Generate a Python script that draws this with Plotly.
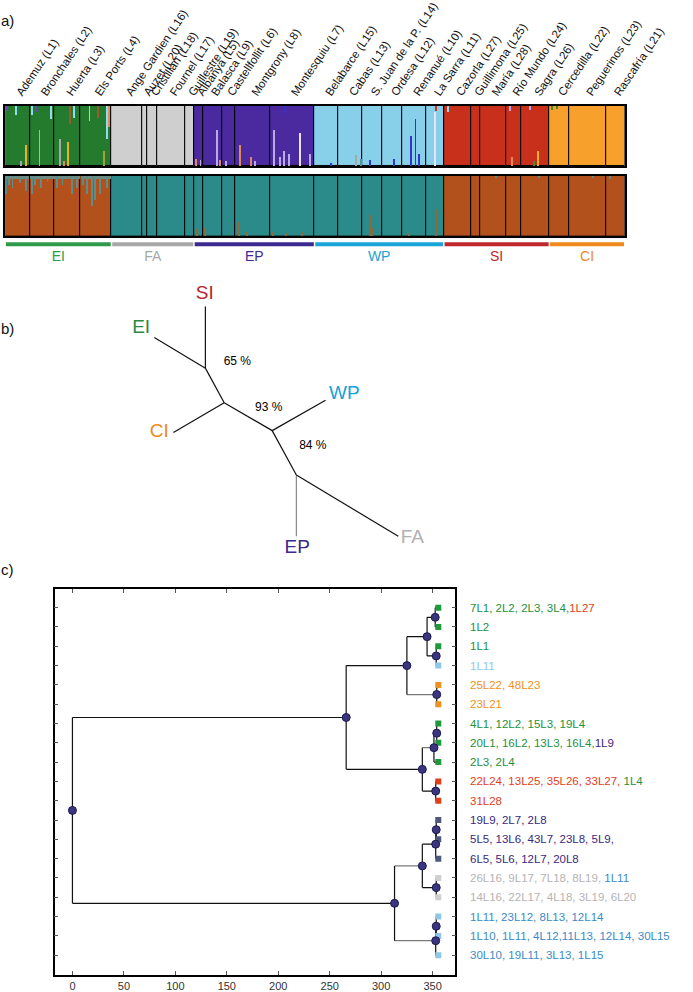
import numpy as np
import plotly.graph_objects as go

W, H = 693, 992

# ---------------- panel a : STRUCTURE bar plots ----------------
pop_names = ["Ademuz (L1)", "Bronchales (L2)", "Huerta (L3)", "Els Ports (L4)",
             "Ange Gardien (L16)", "Auzet (L20)", "Cristillan (L18)", "Fournel (L17)", "Guillestre (L19)",
             "Albanyà (L5)", "Balasca (L9)", "Castellfollit (L6)", "Montgrony (L8)", "Montesquiu (L7)",
             "Belabarce (L15)", "Cabas (L13)", "S. Juan de la P. (L14)", "Ordesa (L12)", "Renanué (L10)", "La Sarra (L11)",
             "Cazorla (L27)", "Guillimona (L25)", "María (L28)", "Río Mundo (L24)", "Sagra (L26)",
             "Cercedilla (L22)", "Peguerinos (L23)", "Rascafría (L21)"]
pop_n = [31, 31, 33, 39,
         39, 6, 12, 36, 11,
         11, 24, 17, 44, 56,
         30, 30, 25, 26, 30, 22,
         34, 12, 32, 20, 35,
         25, 46, 24]
pop_group = [0]*4 + [1]*5 + [2]*5 + [3]*6 + [4]*5 + [5]*3
group_names = ["EI", "FA", "EP", "WP", "SI", "CI"]
group_label_colors = ["#2e9a4a", "#a8a8a8", "#3d2a8f", "#1aa3d6", "#c0272d", "#f08a1c"]

# K=6 cluster colours (top) and K=2 (bottom)
top_cluster_colors = ["#247a2d", "#cfcfcf", "#4a2a9e", "#88cfea", "#c9301c", "#f7a12c"]
bottom_cluster_colors = ["#b3511c", "#2b8b8b"]
bottom_cluster_of_group = [0, 1, 1, 1, 0, 0]

extra_colors = {"yellow": "#e9b21f", "lblue": "#8fdcf2", "purple": "#6a4ab0", "gray": "#a8a8a8",
                "brown": "#9a5a2a", "salmon": "#e0895a", "olive": "#a6a03a", "lav": "#b9aae6",
                "white": "#e8e4f4", "dblue": "#3434c8", "red": "#d23020", "green": "#4a8a2a",
                "teal": "#4a9a9a"}

# admixed individuals, top plot: (population, individual, colour, proportion, from_top)
spikes_top = [
    (0, 26, "yellow", 0.35, 0), (0, 13, "lblue", 0.15, 1), (0, 2, "purple", 0.08, 1), (0, 20, "gray", 0.08, 0),
    (1, 12, "yellow", 0.60, 0), (1, 3, "lblue", 0.15, 1), (1, 27, "lblue", 0.22, 1), (1, 8, "purple", 0.10, 1),
    (2, 17, "yellow", 0.40, 0), (2, 7, "gray", 0.45, 0), (2, 19, "brown", 0.30, 1), (2, 25, "lblue", 0.20, 1),
    (2, 12, "salmon", 0.08, 0),
    (3, 11, "lblue", 0.25, 1), (3, 33, "lblue", 0.55, 1), (3, 29, "olive", 0.25, 0), (3, 22, "brown", 0.20, 1),
    (3, 36, "salmon", 0.35, 1),
    (9, 2, "salmon", 0.12, 0), (9, 8, "lav", 0.10, 0),
    (10, 18, "lav", 0.60, 0), (10, 22, "salmon", 0.10, 0),
    (11, 5, "lav", 0.08, 0),
    (12, 6, "salmon", 0.35, 0), (12, 20, "salmon", 0.15, 0), (12, 25, "lav", 0.08, 0),
    (13, 5, "lav", 0.60, 0), (13, 12, "lav", 0.15, 0), (13, 17, "lav", 0.25, 0), (13, 18, "dblue", 0.12, 1),
    (13, 23, "lav", 0.20, 0), (13, 37, "white", 0.55, 0), (13, 50, "lav", 0.20, 0),
    (14, 20, "dblue", 0.05, 0),
    (15, 22, "gray", 0.18, 0), (15, 28, "teal", 0.12, 0),
    (16, 10, "dblue", 0.10, 0), (17, 15, "dblue", 0.12, 0),
    (18, 10, "dblue", 0.50, 0), (18, 16, "dblue", 0.78, 0), (18, 20, "dblue", 0.20, 0),
    (19, 11, "white", 0.90, 0), (19, 12, "red", 0.08, 1),
    (20, 5, "lblue", 0.10, 1),
    (23, 5, "lav", 0.08, 1), (23, 8, "salmon", 0.15, 0),
    (24, 20, "yellow", 0.25, 0), (24, 10, "lav", 0.06, 1), (24, 15, "green", 0.08, 0),
    (25, 3, "green", 0.06, 1), (25, 9, "green", 0.05, 1),
]
# admixed individuals, bottom plot (K=2): (population, individual, proportion of the minor cluster)
spikes_bottom = [
    (0, 1, 0.30), (0, 5, 0.15), (0, 9, 0.20), (0, 18, 0.12), (0, 26, 0.25),
    (1, 2, 0.30), (1, 6, 0.15), (1, 14, 0.20), (1, 22, 0.10),
    (2, 3, 0.20), (2, 10, 0.15), (2, 22, 0.30), (2, 28, 0.20),
    (3, 3, 0.15), (3, 8, 0.30), (3, 14, 0.50), (3, 18, 0.40), (3, 24, 0.30), (3, 33, 0.20),
    (9, 3, 0.12), (10, 3, 0.15), (12, 4, 0.20), (12, 5, 0.25), (12, 15, 0.08),
    (13, 3, 0.08), (13, 20, 0.06), (13, 40, 0.08), (16, 10, 0.35), (16, 12, 0.15),
    (19, 12, 0.45), (18, 8, 0.06),
    (22, 20, 0.04), (24, 22, 0.03), (26, 30, 0.04), (27, 5, 0.05),
]
bottom_fringe = 0.05  # thin admixture fringe at top of EI populations

# ---------------- panel b : unrooted tree ----------------
tree_nodes = {"SI": (11.43, 25.6), "N1": (11.43, 19.4), "EI": (6.0, 22.47), "N2": (13.43, 15.93),
              "CI": (8.03, 12.93), "N3": (18.53, 13.12), "WP": (24.2, 16.17), "N4": (21.1, 8.67),
              "EP": (21.1, 2.5), "FA": (31.93, 2.5)}
tree_edges = [("N1", "SI"), ("N1", "EI"), ("N1", "N2"), ("N2", "CI"), ("N2", "N3"),
              ("N3", "WP"), ("N3", "N4"), ("N4", "EP"), ("N4", "FA")]
tree_labels = ["SI", "EI", "CI", "WP", "EP", "FA"]
tree_label_pos = [(11.37, 26.83), (4.6, 23.4), (6.53, 13.0), (26.2, 16.73), (21.2, 1.33), (33.43, 2.27)]
tree_label_colors = ["#b8262b", "#2a8a3e", "#f08a1c", "#18a0d8", "#3a2a8a", "#b0b0b0"]
support_text = ["65 %", "93 %", "84 %"]
support_pos = [(13.37, 20.0), (16.7, 15.4), (21.4, 11.6)]

# ---------------- panel c : dendrogram ----------------
dendro_nodes = {
    "R": (0, ["U", "L"]),
    "U": (266, ["U1", "U2"]),
    "U1": (325, ["A", "Cn"]),
    "A": (344.6, ["A1", "A2"]),
    "A1": (352.5, [0, 1]),
    "A2": (353.5, [2, 3]),
    "Cn": (354, [4, 5]),
    "U2": (340, ["B", "C"]),
    "B": (351.3, ["B1", 8]),
    "B1": (354, [6, 7]),
    "C": (353, [9, 10]),
    "L": (313, ["L1", "L2"]),
    "L1": (340, ["L1a", "L1b"]),
    "L1a": (353, ["L1a1", 13]),
    "L1a1": (353.5, [11, 12]),
    "L1b": (353.5, [14, 15]),
    "L2": (353, ["L2a", 18]),
    "L2a": (353.5, [16, 17]),
}
gray_edges = {("U1", "Cn"), ("U2", "B"), ("L", "L1"), ("L", "L2")}
leaf_height = 355.5
leaf_colors = ["#1e9a3c"]*3 + ["#8ec8e6"] + ["#f0901e"]*2 + ["#1e9a3c"]*3 + ["#e04018"]*2 + \
              ["#4f5a7a"]*3 + ["#cfcfcf"]*2 + ["#8ec8e6"]*3
G, R_, O, P, Gy, B, LB = "#1e9040", "#e0401e", "#f0901e", "#3a2880", "#b4b4b4", "#3a8ac8", "#90c8e8"
leaf_labels = [
    [("7L1, 2L2, 2L3, 3L4,", G), ("1L27", R_)],
    [("1L2", G)],
    [("1L1", G)],
    [("1L11", LB)],
    [("25L22, 48L23", O)],
    [("23L21", O)],
    [("4L1, 12L2, 15L3, 19L4", G)],
    [("20L1, 16L2, 13L3, 16L4,", G), ("1L9", P)],
    [("2L3, 2L4", G)],
    [("22L24, 13L25, 35L26, 33L27, ", R_), ("1L4", G)],
    [("31L28", R_)],
    [("19L9, 2L7, 2L8", P)],
    [("5L5, 13L6, 43L7, 23L8, 5L9,", P)],
    [("6L5, 5L6, 12L7, 20L8", P)],
    [("26L16, 9L17, 7L18, 8L19, ", Gy), ("1L11", B)],
    [("14L16, 22L17, 4L18, 3L19, 6L20", Gy)],
    [("1L11, 23L12, 8L13, 12L14", B)],
    [("1L10, 1L11, 4L12,11L13, 12L14, 30L15", B)],
    [("30L10, 19L11, 3L13, 1L15", B)],
]
x_ticks = [0, 50, 100, 150, 200, 250, 300, 350]

FONT = "Liberation Sans, Arial, sans-serif"
fig = go.Figure()

# ---- panel a traces ----
cum = np.concatenate([[0], np.cumsum(pop_n)])
centers = (cum[:-1] + cum[1:]) / 2.0
total = cum[-1]

fig.add_trace(go.Bar(x=centers, y=[1]*len(pop_n), width=pop_n,
                     marker=dict(color=[top_cluster_colors[g] for g in pop_group],
                                 line=dict(color="black", width=1)),
                     xaxis="x", yaxis="y", hoverinfo="skip"))
sx = [cum[p] + i + 0.5 for p, i, c, h, t in spikes_top]
sy = [h for p, i, c, h, t in spikes_top]
sb = [(1 - h) if t else 0 for p, i, c, h, t in spikes_top]
sc = [extra_colors[c] for p, i, c, h, t in spikes_top]
fig.add_trace(go.Bar(x=sx, y=sy, base=sb, width=1.1, marker=dict(color=sc, line=dict(width=0)),
                     xaxis="x", yaxis="y", hoverinfo="skip"))

bot_main = [bottom_cluster_of_group[g] for g in pop_group]
fig.add_trace(go.Bar(x=centers, y=[1]*len(pop_n), width=pop_n,
                     marker=dict(color=[bottom_cluster_colors[k] for k in bot_main],
                                 line=dict(color="black", width=1)),
                     xaxis="x2", yaxis="y2", hoverinfo="skip"))
# fringe of EI populations
ei = [j for j, g in enumerate(pop_group) if g == 0]
fig.add_trace(go.Bar(x=[centers[j] for j in ei], y=[bottom_fringe]*len(ei), base=[1 - bottom_fringe]*len(ei),
                     width=[pop_n[j] - 0.6 for j in ei], marker=dict(color="#6f8a80", line=dict(width=0)),
                     xaxis="x2", yaxis="y2", hoverinfo="skip"))
bx, by, bb, bc = [], [], [], []
for p, i, h in spikes_bottom:
    k = bot_main[p]
    bx.append(cum[p] + i + 0.5)
    by.append(h)
    if k == 0:   # minor teal from top
        bb.append(1 - h); bc.append("#5f8c86")
    else:        # minor brown from bottom
        bb.append(0); bc.append("#8c6a40")
fig.add_trace(go.Bar(x=bx, y=by, base=bb, width=1.1, marker=dict(color=bc, line=dict(width=0)),
                     xaxis="x2", yaxis="y2", hoverinfo="skip"))

# group lines and labels
gstart, gend = [], []
for g in range(len(group_names)):
    idx = [j for j, gg in enumerate(pop_group) if gg == g]
    gstart.append(cum[idx[0]]); gend.append(cum[idx[-1] + 1])
for g in range(len(group_names)):
    fig.add_trace(go.Scatter(x=[gstart[g] + 0.9, gend[g] - 0.9], y=[0.8, 0.8], mode="lines",
                             line=dict(color=group_label_colors[g], width=4),
                             xaxis="x3", yaxis="y3", hoverinfo="skip"))
fig.add_trace(go.Scatter(x=[(a + b) / 2 for a, b in zip(gstart, gend)], y=[0.3]*len(group_names),
                         mode="text", text=group_names,
                         textfont=dict(color=group_label_colors, size=14, family=FONT),
                         xaxis="x3", yaxis="y3", hoverinfo="skip"))

# ---- panel b traces ----
for a, b in tree_edges:
    col = "#888888" if b == "EP" else "#111111"
    fig.add_trace(go.Scatter(x=[tree_nodes[a][0], tree_nodes[b][0]], y=[tree_nodes[a][1], tree_nodes[b][1]],
                             mode="lines", line=dict(color=col, width=1.2),
                             xaxis="x4", yaxis="y4", hoverinfo="skip"))
fig.add_trace(go.Scatter(x=[p[0] for p in tree_label_pos], y=[p[1] for p in tree_label_pos], mode="text",
                         text=tree_labels, textfont=dict(color=tree_label_colors, size=19, family=FONT),
                         xaxis="x4", yaxis="y4", hoverinfo="skip"))
fig.add_trace(go.Scatter(x=[p[0] for p in support_pos], y=[p[1] for p in support_pos], mode="text",
                         text=support_text, textposition="middle right",
                         textfont=dict(color="#000000", size=12, family=FONT),
                         xaxis="x4", yaxis="y4", hoverinfo="skip"))

# ---- panel c traces ----
def node_pos(n):
    if isinstance(n, int):
        return (leaf_height, float(n))
    h, ch = dendro_nodes[n]
    ys = [node_pos(c)[1] for c in ch]
    return (h, float(np.mean(ys)))

black_x, black_y, gray_x, gray_y = [], [], [], []
for name, (h, ch) in dendro_nodes.items():
    cps = [node_pos(c) for c in ch]
    ys = [p[1] for p in cps]
    black_x += [h, h, None]; black_y += [min(ys), max(ys), None]
    for c, (cx, cy) in zip(ch, cps):
        if (name, c) in gray_edges:
            gray_x += [h, cx, None]; gray_y += [cy, cy, None]
        else:
            black_x += [h, cx, None]; black_y += [cy, cy, None]
fig.add_trace(go.Scatter(x=gray_x, y=gray_y, mode="lines", line=dict(color="#7a7a7a", width=1.3),
                         xaxis="x5", yaxis="y5", hoverinfo="skip"))
fig.add_trace(go.Scatter(x=black_x, y=black_y, mode="lines", line=dict(color="#111111", width=1.2),
                         xaxis="x5", yaxis="y5", hoverinfo="skip"))
nl = list(range(len(leaf_colors)))
fig.add_trace(go.Scatter(x=[leaf_height]*len(nl), y=nl, mode="markers",
                         marker=dict(symbol="square", size=6, color=leaf_colors, line=dict(width=0)),
                         xaxis="x5", yaxis="y5", hoverinfo="skip"))
npos = [node_pos(n) for n in dendro_nodes]
fig.add_trace(go.Scatter(x=[p[0] for p in npos], y=[p[1] for p in npos], mode="markers",
                         marker=dict(symbol="circle", size=8, color="#3a357e", line=dict(color="#1d1a50", width=1)),
                         xaxis="x5", yaxis="y5", hoverinfo="skip"))

annotations = []
for i, segs in enumerate(leaf_labels):
    txt = "".join(f'<span style="color:{c}">{s}</span>' for s, c in segs)
    annotations.append(dict(x=497 / W, xref="paper", y=i, yref="y5", text=txt, showarrow=False,
                            xanchor="left", yanchor="middle", font=dict(size=11.5, family=FONT)))
for lab, (px, py) in zip(["a)", "b)", "c)"], [(8, 17), (8, 326), (8, 568)]):
    annotations.append(dict(x=px / W, y=1 - py / H, xref="paper", yref="paper", text=lab, showarrow=False,
                            xanchor="center", yanchor="middle", font=dict(size=15, color="#111111", family=FONT)))

noax = dict(visible=False, showgrid=False, zeroline=False)
fig.update_layout(
    width=W, height=H, margin=dict(l=0, r=0, t=0, b=0), showlegend=False,
    paper_bgcolor="white", plot_bgcolor="rgba(0,0,0,0)", barmode="overlay", bargap=0,
    font=dict(family=FONT, color="#111111"),
    annotations=annotations,
    xaxis=dict(domain=[5.5 / W, 664 / W], range=[0, total], anchor="y", side="top",
               tickmode="array", tickvals=centers, ticktext=pop_names, tickangle=-56,
               tickfont=dict(size=11.5, family=FONT, color="#111111"), ticks="",
               showline=True, linecolor="black", linewidth=2, mirror=True, showgrid=False, zeroline=False),
    yaxis=dict(domain=[1 - 163 / H, 1 - 102.5 / H], range=[0, 1], anchor="x", showticklabels=False,
               showline=True, linecolor="black", linewidth=2, mirror=True, showgrid=False, zeroline=False),
    xaxis2=dict(domain=[5.5 / W, 664 / W], range=[0, total], anchor="y2", showticklabels=False,
                showline=True, linecolor="black", linewidth=2, mirror=True, showgrid=False, zeroline=False),
    yaxis2=dict(domain=[1 - 233.5 / H, 1 - 172.5 / H], range=[0, 1], anchor="x2", showticklabels=False,
                showline=True, linecolor="black", linewidth=2, mirror=True, showgrid=False, zeroline=False),
    xaxis3=dict(domain=[5.5 / W, 664 / W], range=[0, total], anchor="y3", **noax),
    yaxis3=dict(domain=[1 - 263 / H, 1 - 236 / H], range=[0, 1], anchor="x3", **noax),
    xaxis4=dict(domain=[104 / W, 485 / W], range=[0, 38.1], anchor="y4", **noax),
    yaxis4=dict(domain=[1 - 560 / H, 1 - 280 / H], range=[0, 28], anchor="x4", **noax),
    xaxis5=dict(domain=[58 / W, 484 / W], range=[-17.36, 372.1], anchor="y5",
                tickmode="array", tickvals=x_ticks, ticks="inside", ticklen=4, tickcolor="#555555",
                tickfont=dict(size=11, color="#333333", family=FONT),
                showline=True, linecolor="black", linewidth=1.5, mirror="allticks",
                showgrid=False, zeroline=False),
    yaxis5=dict(domain=[1 - 976 / H, 1 - 588.3 / H], range=[19.03, -0.95], anchor="x5",
                tickmode="array", tickvals=list(range(19)), ticks="inside", ticklen=4, tickcolor="#555555",
                showticklabels=False, showline=True, linecolor="black", linewidth=1.5, mirror="allticks",
                showgrid=False, zeroline=False),
)

fig.write_html("out.html", config={"displayModeBar": False},
               post_script="document.body.style.margin='0';")
